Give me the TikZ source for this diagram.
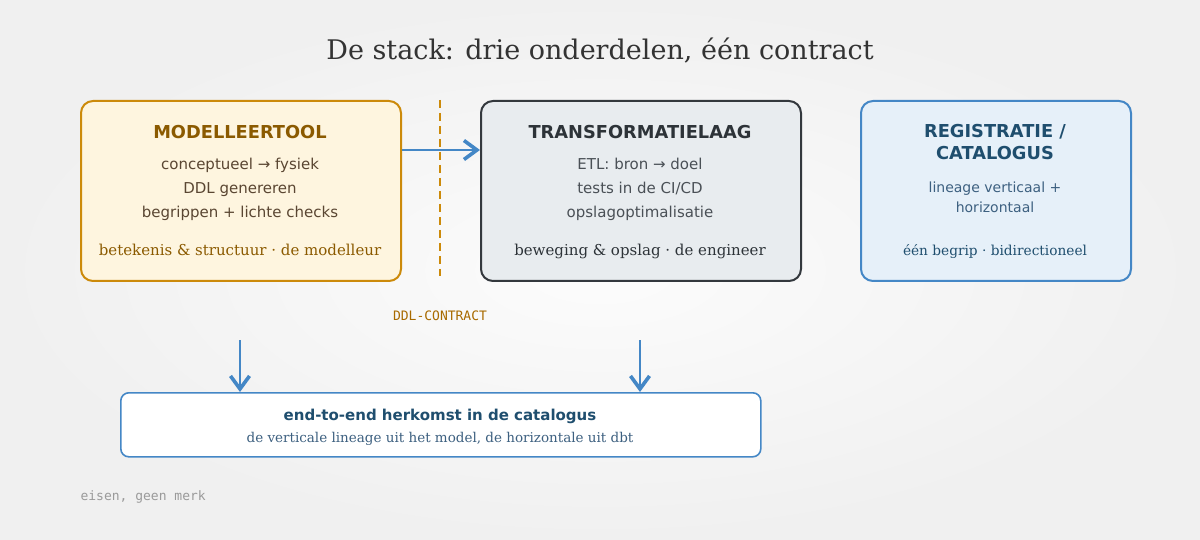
\documentclass[tikz,border=0pt]{standalone}
\usepackage{fontspec}
\setmainfont{DejaVu Serif}
\setsansfont{DejaVu Sans}
\setmonofont{DejaVu Sans Mono}
\usetikzlibrary{arrows.meta}
\definecolor{bgin}{HTML}{FCFCFC}
\definecolor{bgout}{HTML}{F0F0F0}
\definecolor{orfill}{HTML}{FEF5DF}
\definecolor{orline}{HTML}{CC8A0A}
\definecolor{orhead}{HTML}{8B5A00}
\definecolor{orbody}{HTML}{5A4632}
\definecolor{grfill}{HTML}{E8ECEF}
\definecolor{grline}{HTML}{33383D}
\definecolor{grhead}{HTML}{2D3338}
\definecolor{grbody}{HTML}{4A5056}
\definecolor{blfill}{HTML}{E6F0F9}
\definecolor{blline}{HTML}{4487C6}
\definecolor{blhead}{HTML}{1F4E6E}
\definecolor{blbody}{HTML}{3D6080}
\definecolor{contract}{HTML}{A86A00}
\definecolor{note}{HTML}{9A9A9A}
\definecolor{titlec}{HTML}{333333}
\tikzset{
  box/.style={draw, rounded corners=12pt, line width=2pt, minimum width=320pt, minimum height=180pt, anchor=north west, inner sep=0pt},
  hdr/.style={anchor=base, font=\sffamily\bfseries\fontsize{17.8}{22}\selectfont},
  bod/.style={anchor=base, font=\sffamily\fontsize{15}{18}\selectfont},
  bods/.style={anchor=base, font=\sffamily\fontsize{14}{17}\selectfont},
  foot/.style={anchor=base, font=\fontsize{15}{18}\selectfont},
  arr/.style={draw=blline, line width=2pt, -{Straight Barb[length=13pt,width=19pt,line width=3.6pt]}},
}
\begin{document}
\begin{tikzpicture}[x=1pt,y=-1pt]
\useasboundingbox (0,0) rectangle (1200,540);
\shade[inner color=bgin, outer color=bgout] (0,0) rectangle (1200,540);
\node[anchor=base, text=titlec, font=\fontsize{27}{32}\selectfont] (title) at (600,60) {De stack: drie onderdelen, één contract};
% boxes
\node[box, draw=orline, fill=orfill] (b1) at (80,100) {};
\node[box, draw=grline, fill=grfill] (b2) at (480,100) {};
\node[box, draw=blline, fill=blfill, minimum width=270pt] (b3) at (860,100) {};
% box 1 text
\node[hdr, text=orhead] (h1) at (240,139) {MODELLEERTOOL};
\node[bod, text=orbody] (t11) at (240,170) {conceptueel → fysiek};
\node[bod, text=orbody] (t12) at (240,194) {DDL genereren};
\node[bod, text=orbody] (t13) at (240,218) {begrippen + lichte checks};
\node[foot, text=orhead] (f1) at (240,255) {betekenis \& structuur · de modelleur};
% box 2 text
\node[hdr, text=grhead] (h2) at (640,139) {TRANSFORMATIELAAG};
\node[bod, text=grbody] (t21) at (640,170) {ETL: bron → doel};
\node[bod, text=grbody] (t22) at (640,194) {tests in de CI/CD};
\node[bod, text=grbody] (t23) at (640,218) {opslagoptimalisatie};
\node[foot, text=grhead] (f2) at (640,255) {beweging \& opslag · de engineer};
% box 3 text
\node[hdr, text=blhead] (h3a) at (995,138) {REGISTRATIE /};
\node[hdr, text=blhead] (h3b) at (995,160) {CATALOGUS};
\node[bods, text=blbody] (t31) at (995,193) {lineage verticaal +};
\node[bods, text=blbody] (t32) at (995,213) {horizontaal};
\node[foot, text=blhead, font=\fontsize{13.7}{16}\selectfont] (f3) at (995,255) {één begrip · bidirectioneel};
% dashed contract line
\coordinate (dtop) at (440,100);
\coordinate (dbot) at (440,276);
\draw[orline, line width=2pt, dash pattern=on 8pt off 5pt] (dtop) -- (dbot);
\node[anchor=base, text=contract, font=\ttfamily\fontsize{13}{16}\selectfont] (ddl) at (440,320) {DDL-CONTRACT};
% arrow box1 -> box2
\draw[arr] ([yshift=-50pt]b1.north east) -- ([yshift=-50pt]b2.north west);
% bottom box
\node[draw=blline, fill=white, rounded corners=8pt, line width=1.6pt, minimum width=640pt, minimum height=64pt, anchor=north west, inner sep=0pt] (b4) at (120,392) {};
\node[anchor=base, text=blhead, font=\sffamily\bfseries\fontsize{15}{18}\selectfont] (h4) at (440,420) {end-to-end herkomst in de catalogus};
\node[anchor=base, text=blbody, font=\fontsize{13.5}{16}\selectfont] (t4) at (440,442) {de verticale lineage uit het model, de horizontale uit dbt};
\coordinate (s1) at (240,340);
\coordinate (s2) at (640,340);
\draw[arr] (s1) -- (s1 |- b4.north);
\draw[arr] (s2) -- (s2 |- b4.north);
\node[anchor=base west, text=note, font=\ttfamily\fontsize{13}{16}\selectfont] (note) at (77,500) {eisen, geen merk};
\end{tikzpicture}
\end{document}
